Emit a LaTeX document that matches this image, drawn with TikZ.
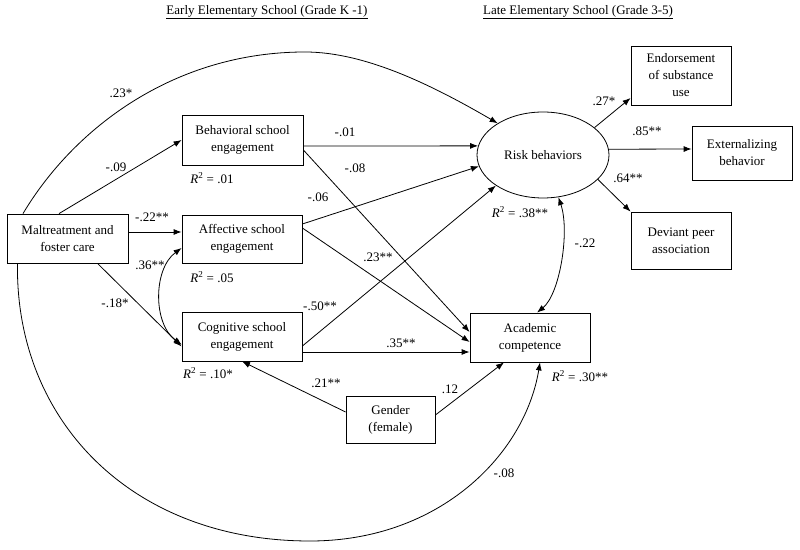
\documentclass[tikz,border=0pt]{standalone}
\usepackage{fontspec}
\setmainfont{Liberation Serif}
\usetikzlibrary{arrows.meta,shapes.geometric}

\newcommand{\rsq}[1]{\textit{R}\textsuperscript{2} = #1}

\begin{document}
\begin{tikzpicture}[x=1pt,y=1pt,font=\fontsize{13}{17}\selectfont,
  box/.style={draw,line width=0.8pt,align=center,inner sep=0pt},
  oval/.style={draw,ellipse,line width=0.8pt,minimum width=132pt,minimum height=86pt,inner sep=0pt},
  lbl/.style={inner sep=0pt},
  arr/.style={line width=0.8pt,-{Latex[length=8pt,width=6pt]}},
  darr/.style={line width=0.8pt,{Latex[length=8pt,width=6pt]}-{Latex[length=8pt,width=6pt]}}]
\useasboundingbox (0,0) rectangle (800,549);
% headings
\node[lbl](early)at(267,537){\underline{Early Elementary School (Grade K -1)}};
\node[lbl](late)at(578,537){\underline{Late Elementary School (Grade 3-5)}};
% variables
\node[box,minimum width=121pt,minimum height=49pt](malt)at(67.5,310.5){Maltreatment and\\foster care};
\node[box,minimum width=121pt,minimum height=50pt](beh)at(242.5,409){Behavioral school\\engagement};
\node[box,minimum width=120pt,minimum height=48pt](aff)at(242,310){Affective school\\engagement};
\node[box,minimum width=120pt,minimum height=49pt](cog)at(242,212.5){Cognitive school\\engagement};
\node[box,minimum width=89pt,minimum height=47pt](gender)at(390.5,129.5){Gender\\(female)};
\node[box,minimum width=120pt,minimum height=49pt](acad)at(530,211.5){Academic\\competence};
\node[oval](risk)at(543,394){Risk behaviors};
\node[box,minimum width=100pt,minimum height=59pt](endorse)at(681,473.5){Endorsement\\of substance\\use};
\node[box,minimum width=100pt,minimum height=54pt](ext)at(742,396){Externalizing\\behavior};
\node[box,minimum width=100pt,minimum height=57pt](dev)at(681,308.5){Deviant peer\\association};
% explained variance
\node[lbl](rbeh)at(212,371){\rsq{.01}};
\node[lbl](raff)at(212,272){\rsq{.05}};
\node[lbl](rcog)at(208,176){\rsq{.10*}};
\node[lbl](rrisk)at(520,337){\rsq{.38**}};
\node[lbl](racad)at(580,173){\rsq{.30**}};
% paths from maltreatment
\draw[arr] ([xshift=-44.5pt]malt.north) .. controls (74.5,421.7) and (175,497) .. (305,497)
  .. controls (365,497) and (432,464) .. (risk.145);
\draw[arr] ([xshift=-50pt]malt.south) .. controls (15,130) and (130,8) .. (310,8)
  .. controls (440,8) and (525,95) .. ([xshift=10pt]acad.south);
\draw[arr] ([xshift=-8.5pt]malt.north) -- (beh.west);
\draw[arr] ([yshift=6.5pt]malt.east) -- ([yshift=7pt]aff.west);
\draw[arr] ([xshift=30pt]malt.south) -- ([yshift=-10pt]cog.west);
\draw[darr] ([yshift=-9pt]aff.west) .. controls (153,280) and (153,225) .. ([yshift=-8pt]cog.west);
% paths from engagement
\draw[arr] ([yshift=-6pt]beh.east) -- (risk.172);
\draw[arr] ([yshift=-10pt]beh.east) -- ([yshift=5.5pt]acad.west);
\draw[arr] ([yshift=15pt]aff.east) -- (risk.190);
\draw[arr] ([yshift=11pt]aff.east) -- ([yshift=-4.5pt]acad.west);
\draw[arr] ([yshift=-9.5pt]cog.east) -- (risk.213);
\draw[arr] ([yshift=-15.5pt]cog.east) -- ([yshift=-14.5pt]acad.west);
% gender
\draw[arr] ([yshift=7.5pt]gender.west) -- (cog.south);
\draw[arr] ([yshift=4.5pt]gender.east) -- ([xshift=-26pt]acad.south);
% outcomes
\draw[darr] (risk.290) .. controls (570,318) and (560,255) .. ([xshift=7pt]acad.north);
\draw[arr] (risk.28) -- ([yshift=-22.5pt]endorse.west);
\draw[arr] (risk.5) -- ([yshift=4pt]ext.west);
\draw[arr] (risk.336) -- (dev.north west);
% coefficients
\node[lbl](c1)at(121,456){.23*};
\node[lbl](c2)at(116,382){-.09};
\node[lbl](c3)at(152,332){-.22**};
\node[lbl](c4)at(150,284){.36**};
\node[lbl](c5)at(115,246){-.18*};
\node[lbl](c6)at(345,417){-.01};
\node[lbl](c7)at(355,381){-.08};
\node[lbl](c8)at(318,352){-.06};
\node[lbl](c9)at(378,292){.23**};
\node[lbl](c10)at(320,243){-.50**};
\node[lbl](c11)at(401,206){.35**};
\node[lbl](c12)at(326,166){.21**};
\node[lbl](c13)at(450,160){.12};
\node[lbl](c14)at(504,76){-.08};
\node[lbl](c15)at(585,306){-.22};
\node[lbl](c16)at(604,448){.27*};
\node[lbl](c17)at(647,418){.85**};
\node[lbl](c18)at(628,371){.64**};
\end{tikzpicture}
\end{document}
